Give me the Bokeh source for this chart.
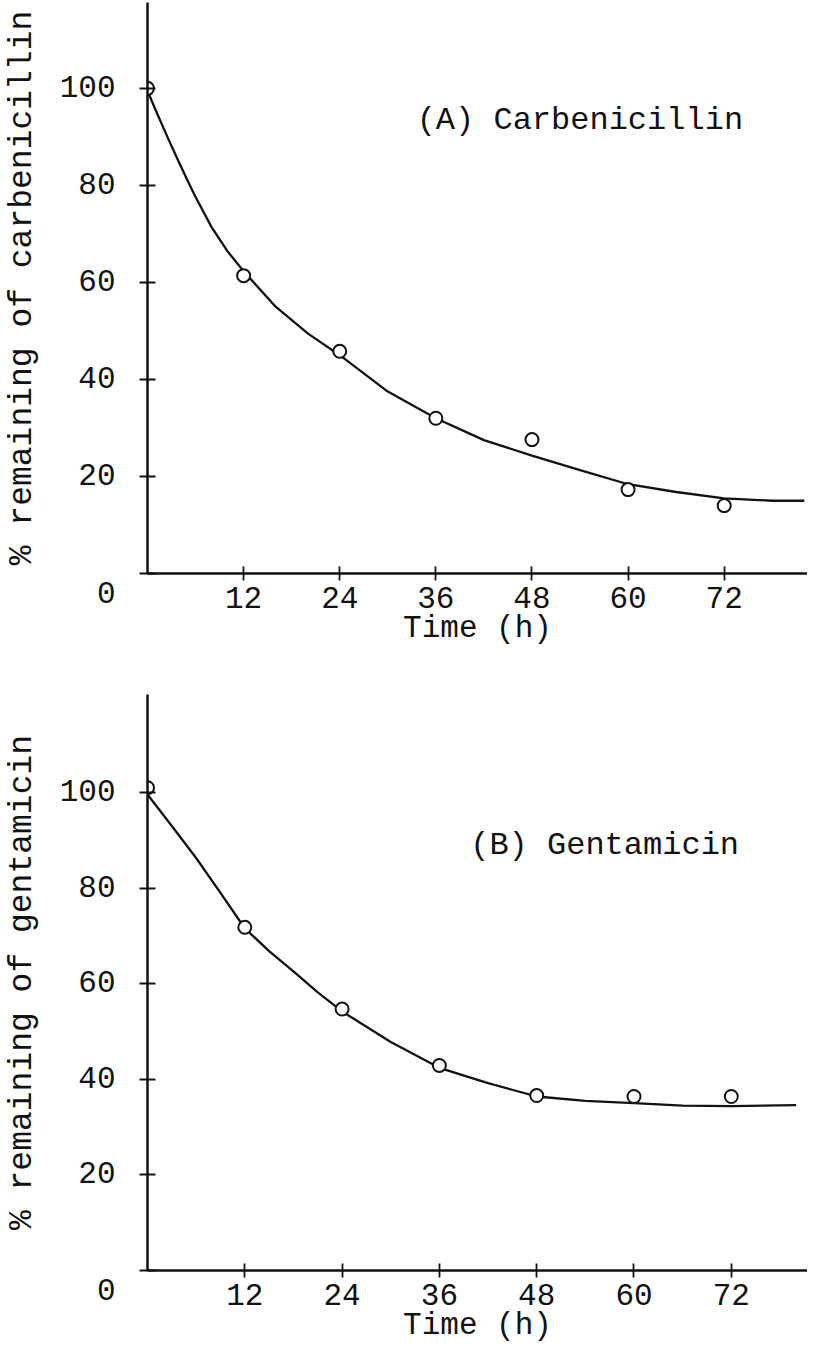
from bokeh.plotting import figure
from bokeh.models import Range1d, FixedTicker, Label
from bokeh.layouts import column
from bokeh.embed import file_html
from bokeh.resources import INLINE

# ---- data ----
time_h = [0, 12, 24, 36, 48, 60, 72]
carb_pct = [100, 61.4, 45.8, 32.0, 27.6, 17.3, 14.0]
gent_pct = [101, 71.8, 54.7, 42.9, 36.6, 36.4, 36.4]

# hand-drawn fitted curves
carb_curve_t = [0, 1, 2, 3, 4, 5, 6, 8, 10, 12, 16, 20, 24, 30, 36, 42, 48, 54, 60, 66, 72, 78, 82]
carb_curve_v = [99.5, 95.6, 91.8, 88.1, 84.5, 81.0, 77.6, 71.4, 66.4, 62.3, 55.0, 49.5, 45.0,
                37.5, 32.0, 27.5, 24.3, 21.3, 18.4, 16.8, 15.5, 15.0, 15.0]
gent_curve_t = [0, 3, 6, 9, 12, 15, 18, 21, 24, 30, 36, 42, 48, 54, 60, 66, 72, 80]
gent_curve_v = [99.6, 93.0, 86.3, 79.0, 71.6, 66.8, 62.6, 58.2, 54.2, 47.8, 42.4, 39.2,
                36.4, 35.5, 35.0, 34.5, 34.4, 34.6]

x_ticks = [12, 24, 36, 48, 60, 72]
y_ticks = [0, 20, 40, 60, 80, 100]
origin_label = "0"

FONT = "Liberation Mono"
BLACK = "#111111"


def make_panel(width, height, x_end, y_end, border_top, border_bottom,
               t, pts, ct, cv, ylabel, title, title_xy):
    p = figure(width=width, height=height, output_backend="svg", toolbar_location=None,
               x_range=Range1d(0, x_end), y_range=Range1d(0, y_end),
               min_border_left=142, min_border_right=0,
               min_border_top=border_top, min_border_bottom=border_bottom)
    p.outline_line_color = None
    p.xgrid.visible = False
    p.ygrid.visible = False
    p.background_fill_color = "white"
    p.border_fill_color = "white"

    for ax in (p.xaxis[0], p.yaxis[0]):
        ax.axis_line_width = 2.5
        ax.axis_line_color = BLACK
        ax.major_tick_line_width = 1.8
        ax.major_tick_line_color = BLACK
        ax.minor_tick_line_color = None
        ax.major_label_text_font = FONT
        ax.major_label_text_font_size = "31px"
        ax.major_label_text_color = BLACK
        ax.axis_label_text_font = FONT
        ax.axis_label_text_font_style = "normal"
        ax.axis_label_text_color = BLACK

    xa = p.xaxis[0]
    xa.ticker = FixedTicker(ticks=x_ticks)
    xa.major_tick_in = 7
    xa.major_tick_out = 7
    xa.major_label_standoff = 6
    xa.axis_label = "Time (h)"
    xa.axis_label_text_font_size = "31px"
    xa.axis_label_standoff = 0

    ya = p.yaxis[0]
    ya.ticker = FixedTicker(ticks=y_ticks)
    ya.major_label_overrides = {0: "\n" + origin_label}
    ya.major_tick_in = 8
    ya.major_tick_out = 8
    ya.major_label_standoff = 24
    ya.axis_label = ylabel
    ya.axis_label_text_font_size = "33px"
    ya.axis_label_standoff = 16

    p.line(ct, cv, line_color=BLACK, line_width=2.3)
    p.scatter(t, pts, marker="circle", size=13, fill_color="white",
              line_color=BLACK, line_width=2)

    p.add_layout(Label(x=title_xy[0], y=title_xy[1], text=title, text_font=FONT,
                       text_font_size="32px", text_color=BLACK,
                       text_align="left", text_baseline="middle"))
    return p


pA = make_panel(807, 676, 82.4, 117.7, 2, 103, time_h, carb_pct,
                carb_curve_t, carb_curve_v, "% remaining of carbenicillin",
                "(A) Carbenicillin", (33.6, 93.4))
pB = make_panel(807, 669, 81.4, 120.5, 18, 69, time_h, gent_pct,
                gent_curve_t, gent_curve_v, "% remaining of gentamicin",
                "(B) Gentamicin", (39.8, 89.0))

layout = column(pA, pB, spacing=0)

with open("out.html", "w") as f:
    f.write(file_html(layout, INLINE))
